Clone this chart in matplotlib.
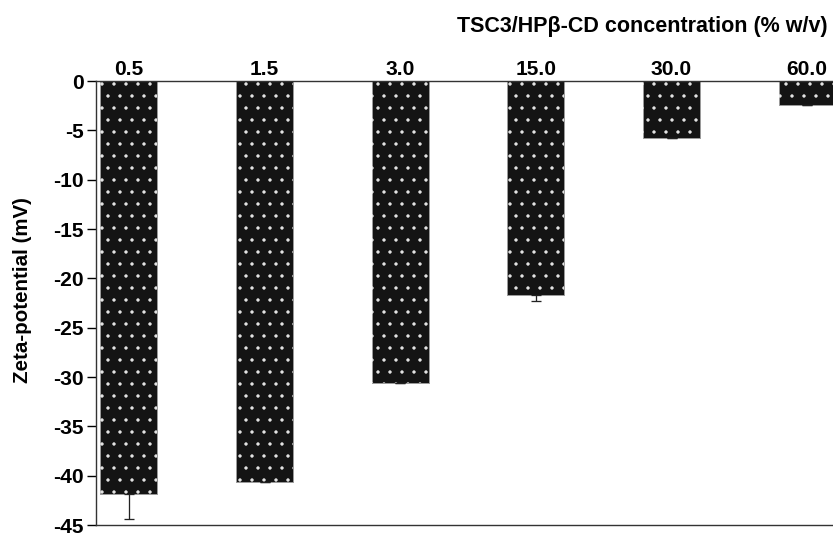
import matplotlib
matplotlib.use('Agg')
import matplotlib.pyplot as plt

# zeta potential of the complex at each concentration
concentrations = ['0.5', '1.5', '3.0', '15.0', '30.0', '60.0']
zeta = [-41.9, -40.6, -30.6, -21.7, -5.8, -2.4]
zeta_err = [2.5, 0.0, 0.0, 0.6, 0.0, 0.0]
yticks = [0, -5, -10, -15, -20, -25, -30, -35, -40, -45]

plt.rcParams['font.family'] = ['Liberation Sans', 'DejaVu Sans']
plt.rcParams['font.weight'] = 'bold'
plt.rcParams['hatch.linewidth'] = 0.9

# 72 dpi so that one point is one pixel and the dot hatch gets a 12 px cell
DPI = 72
W, H = 833, 533
fig = plt.figure(figsize=(W / DPI, H / DPI), dpi=DPI)
ax = fig.add_axes([0.1152, 0.015, 0.8848, 0.833])

x = list(range(len(zeta)))
ax.bar(x, zeta, width=0.42, color='#141414', edgecolor='#9a9a9a',
       linewidth=1.0, zorder=2)
# white dot pattern on top of the dark bars
ax.bar(x, zeta, width=0.42, fill=False, hatch='.', edgecolor='#e8e8e8',
       linewidth=0, zorder=3)

lower = zeta_err
upper = [0.0] * len(zeta)
ax.errorbar(x, zeta, yerr=[lower, upper], fmt='none', ecolor='#222222',
            elinewidth=1.3, capsize=5, capthick=1.3, zorder=4)

ax.set_xlim(-0.243, 5.19)
ax.set_ylim(-45, 0)
ax.set_yticks(yticks)
ax.set_yticklabels([str(v) for v in yticks], fontsize=21, fontweight='bold')

ax.xaxis.tick_top()
ax.set_xticks(x)
ax.set_xticklabels(concentrations, fontsize=21, fontweight='bold')
ax.tick_params(axis='x', length=0, pad=2)
ax.tick_params(axis='y', length=9, width=1.4, pad=3, direction='out')

ax.spines['right'].set_visible(False)
for s in ['left', 'top', 'bottom']:
    ax.spines[s].set_linewidth(1.4)
    ax.spines[s].set_color('#333333')

fig.text(22.5 / W, 1 - 290 / H, 'Zeta-potential (mV)', rotation=90,
         ha='center', va='center', fontsize=20.5, fontweight='bold')
fig.text(0.994, 0.95, 'TSC3/HP\u03b2-CD concentration (% w/v)', ha='right',
         va='center', fontsize=21.5, fontweight='bold')

fig.savefig('out.png', dpi=DPI)
